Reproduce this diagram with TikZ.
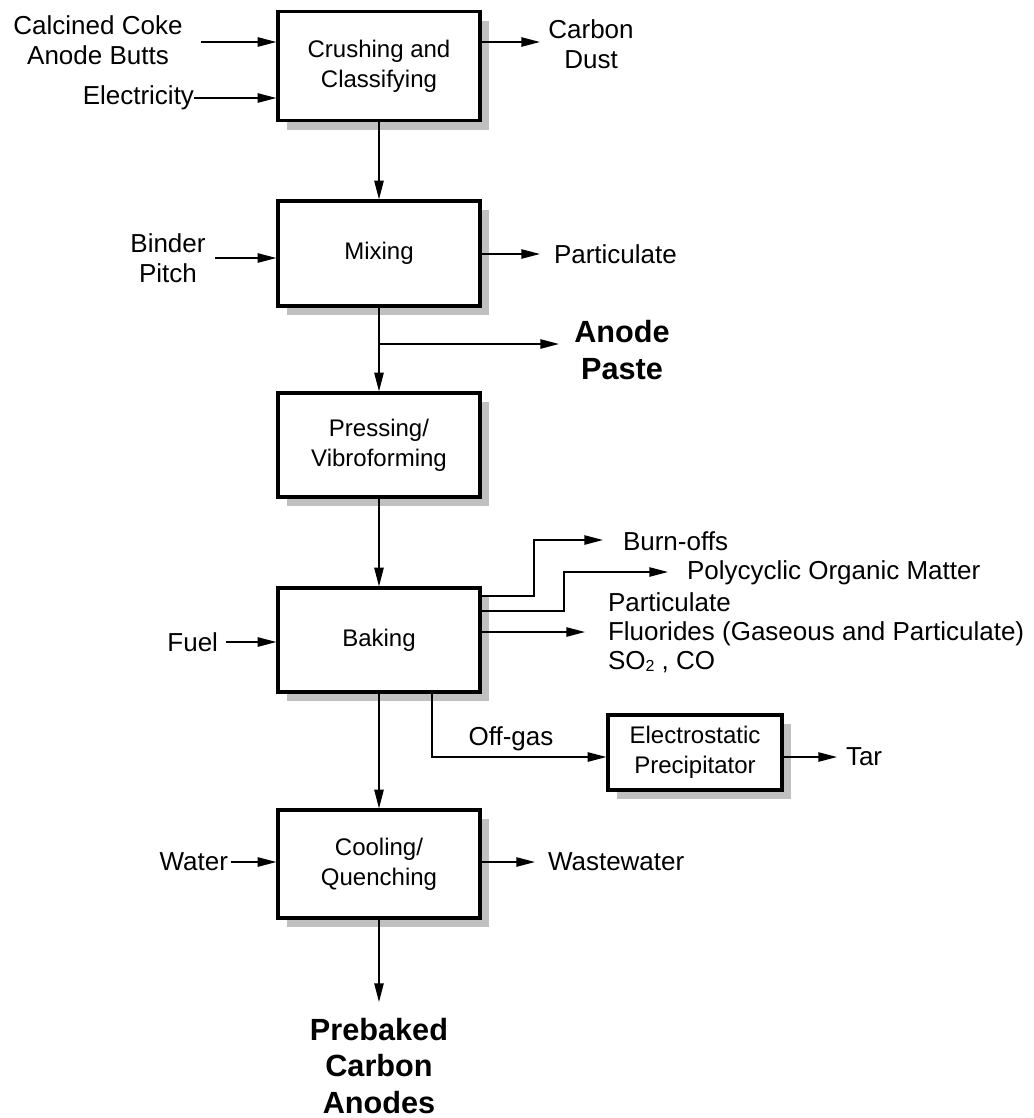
\documentclass[tikz,border=0pt]{standalone}
\usepackage{fontspec}
\setmainfont{Liberation Sans}
\usetikzlibrary{arrows.meta,shadows}
\definecolor{shadowgray}{RGB}{192,192,192}
\begin{document}
\begin{tikzpicture}[x=0.75pt,y=-0.75pt,
  every node/.style={inner sep=0pt, outer sep=0pt},
  boxtext/.style={font=\fontsize{18}{22.5}\selectfont},
  outtext/.style={font=\fontsize{19.5}{22.5}\selectfont},
  bigtext/.style={font=\fontsize{23}{27.5}\selectfont\bfseries, align=center},
  procbox/.style={boxtext, draw, line width=2.6pt, fill=white, align=center,
    minimum width=151.5pt,
    drop shadow={shadow xshift=7pt, shadow yshift=-7pt, fill=shadowgray, opacity=1}},
  flow/.style={line width=1.1pt, -{Triangle[length=14pt,width=7pt]}},
  intobox/.style={flow, shorten >=1.2pt}
]
\useasboundingbox (0,0) rectangle (1034,1118);

% process steps
\node[procbox, minimum height=81.75pt] (crush) at (379,66) {Crushing and\\Classifying};
\node[procbox, minimum height=78.75pt] (mix) at (379,253.5) {Mixing};
\node[procbox, minimum height=78pt] (press) at (379,445) {Pressing/\\Vibroforming};
\node[procbox, minimum height=78pt] (bake) at (379,640) {Baking};
\node[procbox, minimum height=81pt] (cool) at (379,864) {Cooling/\\Quenching};
\node[procbox, minimum width=130.5pt, minimum height=56.25pt] (esp) at (695,752.5) {Electrostatic\\Precipitator};

% main line
\draw[intobox] (crush.south) -- (mix.north);
\draw[intobox] (mix.south) -- (press.north);
\draw[intobox] (press.south) -- (bake.north);
\draw[intobox] (bake.south) -- (cool.north);
\coordinate (prodtip) at (379,1002);
\draw[flow] (cool.south) -- (prodtip);
\node[bigtext] (prod) at (379,1066) {Prebaked\\Carbon\\Anodes};

% crushing and classifying
\node[outtext, align=center] (coke) at (98,40) {Calcined Coke\\Anode Butts};
\coordinate (cokeout) at (201,42);
\draw[intobox] (cokeout) -- (crush.west |- cokeout);
\node[outtext, anchor=east] (elec) at (194,98) {Electricity};
\draw[intobox] (elec.east) -- (crush.west |- elec.east);
\node[outtext, align=center] (dust) at (591,44) {Carbon\\Dust};
\coordinate (dusttip) at (540,42);
\draw[flow] (crush.east |- dusttip) -- (dusttip);

% mixing
\node[outtext, align=center] (pitch) at (168,258) {Binder\\Pitch};
\coordinate (pitchout) at (215,258);
\draw[intobox] (pitchout) -- (mix.west |- pitchout);
\node[outtext, anchor=west] (part) at (554,254) {Particulate};
\coordinate (parttip) at (540,254);
\draw[flow] (mix.east |- parttip) -- (parttip);

% anode paste branch
\coordinate (pastesplit) at (379,344);
\coordinate (pastetip) at (559,344);
\draw[flow] (pastesplit) -- (pastetip);
\node[bigtext] (paste) at (622,350) {Anode\\Paste};

% baking
\node[outtext, anchor=east] (fuel) at (218,642) {Fuel};
\draw[intobox] ([xshift=6pt]fuel.east) -- (bake.west |- fuel.east);

\node[outtext, anchor=west] (burn) at (623,541) {Burn-offs};
\coordinate (burnbend) at (534,596);
\coordinate (burntip) at (603,540);
\draw[flow] (bake.east |- burnbend) -- (burnbend) -- (burnbend |- burntip) -- (burntip);

\node[outtext, anchor=west] (pom) at (687,573) {Polycyclic Organic Matter};
\coordinate (pombend) at (564,611);
\coordinate (pomtip) at (668,572);
\draw[flow] (bake.east |- pombend) -- (pombend) -- (pombend |- pomtip) -- (pomtip);

\node[outtext, anchor=west, align=left, font=\fontsize{19.5}{21.75}\selectfont] (emis) at (608,633)
  {Particulate\\Fluorides (Gaseous and Particulate)\\SO{\fontsize{12}{12}\selectfont\raisebox{-1.5pt}{2}} , CO};
\coordinate (emistip) at (585,632);
\draw[flow] (bake.east |- emistip) -- (emistip);

% off-gas to precipitator
\coordinate (ogbend) at (432,757);
\draw[intobox] (bake.south -| ogbend) -- (ogbend) -- (esp.west |- ogbend);
\node[outtext] (oglabel) at (511,739) {Off-gas};
\node[outtext, anchor=west] (tar) at (846,757) {Tar};
\coordinate (tartip) at (837,757);
\draw[flow] (esp.east |- tartip) -- (tartip);

% cooling
\node[outtext, anchor=east] (water) at (228,862) {Water};
\draw[intobox] ([xshift=2pt]water.east) -- (cool.west |- water.east);
\node[outtext, anchor=west] (waste) at (548,862) {Wastewater};
\coordinate (wastetip) at (535,862);
\draw[flow] (cool.east |- wastetip) -- (wastetip);
\end{tikzpicture}
\end{document}
